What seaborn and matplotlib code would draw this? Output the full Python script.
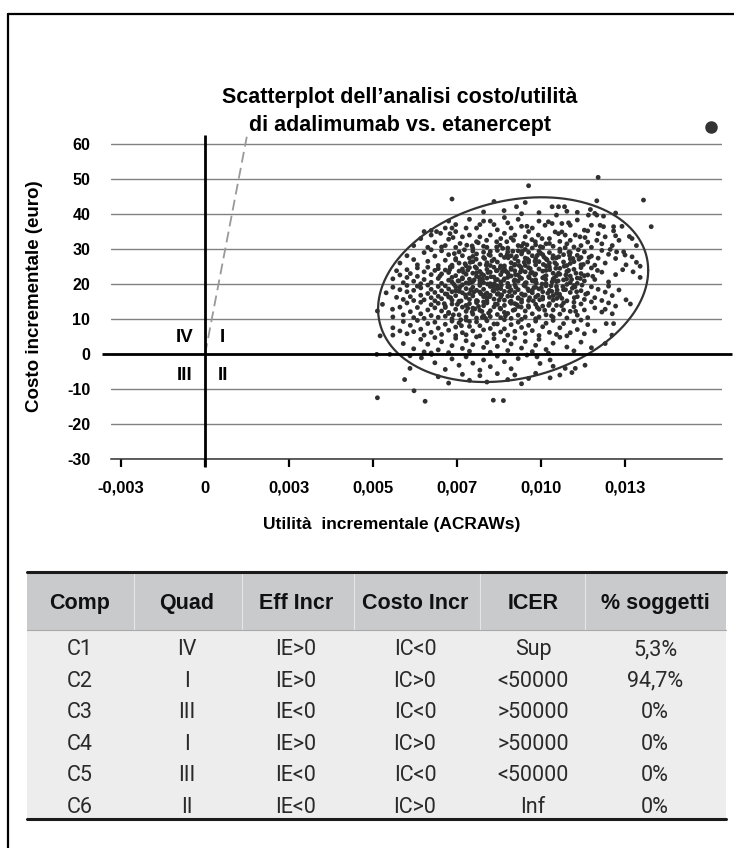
import numpy as np
import pandas as pd
import seaborn as sns
import matplotlib
matplotlib.use("Agg")
import matplotlib.pyplot as plt
from matplotlib.lines import Line2D
from matplotlib.patches import Rectangle

# Simulazioni bootstrap: (utilità incrementale in unità di 1e-4 ACRAWs, costo incrementale in euro)
punti = [
    # costo >= 40
    (96.3,48.1),(117,50.5),(73.5,44.3),(116.6,43.8),(130.5,44),(86,43.6),(92.7,42.1),(95.3,43.3),
    (103.3,42.1),(105.2,42.1),(107,42.1),(114.7,41.3),(116,40.2),(89,41),(82.9,40.6),(99.4,40.4),
    (110.8,40.5),(122.2,40.3),(94.2,40.1),(107.7,40.8),
    # 35 - 40
    (65.2,35),(67.3,35.3),(68.9,35),(70.1,34.5),(71.5,36),(73.5,36),(74.6,35),(74.6,37),(77.7,36),
    (80.8,36),(81.8,37),(82.9,38),(84.9,38),(86,37),(89.1,39),(90.1,37.5),(91.1,36),(93.2,38.5),
    (94.2,36.5),(95.8,36.5),(97.4,36),(96.3,35),(101.2,36.8),(102.2,37.8),(103.3,37.3),(104.6,39.7),
    (106.2,37.3),(108.2,37.5),(108.7,36.8),(110.8,38.3),(112.9,35.4),(113.9,35.2),(114.1,39.7),
    (115,36.8),(116.6,39.7),(117.6,36.8),(118.6,36.4),(118.6,39.4),(121.6,36.4),(121.6,35.2),
    (124.1,36.5),(132.8,36.4),(87,35.5),(99.4,38),(78.7,38.5),(72.5,38),(126.3,33.6),
    # 30 - 35
    (72.9,34.4),(73.8,33.3),(75.9,31.6),(77.9,31.1),(80.8,32.1),(83.8,32.5),(86.8,32.1),(87.8,31.1),
    (89.8,32.1),(91.8,32.5),(94.8,31.6),(62.1,31),(64.2,33),(66.3,30.5),(68.4,32),(71.5,31),(74.6,30.5),
    (76.6,33.5),(78.7,34),(79.7,30.2),(81.8,33.5),(83.9,30.5),(84.9,34),(88,33),(90.1,30.3),(92.2,34),
    (93.2,31),(95.3,33.5),(97.3,32.7),(98.3,32.1),(99.2,34),(100.3,33),(101.5,31.5),(102.5,33),
    (104.2,34.9),(105.2,34.4),(106.2,34.9),(107.2,34),(107.7,31.5),(108.7,32.5),(110.2,34),(111.6,33.5),
    (113.1,33.3),(111.9,31),(113.9,32),(115,30.5),(116.6,32.5),(118.1,31.5),(119.1,33.5),(121.2,31),
    (123.2,32.5),(127.1,33),(128.4,31),(100.5,30.5),(97.4,30.3),(89.1,34.5),(82.9,30.8),(72.5,32.8),
    (67.3,34),(91.1,33.2),(94.2,30.8),(98.4,31.2),(103.6,30.8),(105.6,32.2),(109.8,30.6),(117,34.4),
    (122.2,33.8),
    # 25 - 30
    (58,26),(60.1,28.1),(62.1,27),(63.2,25.5),(65.2,29),(66.3,26.5),(68.4,28),(69.4,25.3),(70.4,29.5),
    (71.5,26.8),(72.5,28.4),(73.5,25.4),(74.6,27.3),(75.6,29.2),(75.6,26),(76.6,28.1),(77.7,25.2),
    (78.7,27.4),(79.7,29.4),(79.7,26.4),(80.8,28.6),(81.8,25.7),(82.9,27.6),(82.9,29.1),(83.9,26.1),
    (84.9,28.2),(84.9,25.3),(86,27.1),(87,29.6),(87,26.3),(88,28.3),(89.1,25.2),(89.1,27.6),(90.1,29.2),
    (91.1,26.1),(91.1,28.1),(92.2,25.6),(92.2,27.3),(93.2,29.5),(93.2,26.5),(94.2,28.6),(95.3,25.3),
    (95.3,27.4),(96.3,29.1),(96.3,26.2),(97.4,28.1),(98.4,25.5),(98.4,27.3),(99.4,29.4),(99.4,26.4),
    (100.5,28.4),(101.5,25.2),(101.5,27.2),(102.5,29),(102.5,26),(103.6,28.1),(104.6,25.6),(104.6,27.5),
    (105.6,29.3),(106.7,26.3),(106.7,28.4),(107.7,25.3),(108.7,27.2),(108.7,29),(109.8,26.4),(110.8,28.2),
    (111.9,25.5),(111.9,27.6),(112.9,29.2),(113.9,26.3),(115,28),(116,25.4),(117,27.4),(118.1,29.6),
    (119.1,26),(120.1,28.5),(120.6,29.9),(122.2,27.3),(122.5,29.2),(124.6,29.2),(125,28.3),(127.1,27.8),
    (125.3,25.5),(128.4,26.2),(129.5,25.1),(67.3,29.8),
    # 20 - 25
    (55.9,21.5),(57,23.8),(58,22.6),(59,20.4),(60.1,24.1),(60.1,21.9),(61.1,23),(62.1,20.8),(63.2,24.6),
    (63.2,22.2),(64.2,20.1),(65.2,23.5),(65.2,21.3),(66.3,24.8),(67.3,22.7),(67.3,20.5),(68.4,23.9),
    (69.4,21.6),(69.4,24.4),(70.4,20.2),(70.4,22.9),(71.5,24),(72.5,21.1),(72.5,23.3),(73.5,20.6),
    (73.5,24.9),(74.6,22.4),(75.6,20.9),(75.6,23.7),(76.6,21.8),(76.6,24.3),(77.7,20.3),(77.7,22.8),
    (78.7,24.7),(78.7,21.4),(79.7,23.1),(79.7,20.7),(80.8,22.2),(80.8,24.5),(81.8,21),(81.8,23.6),
    (82.9,20.4),(82.9,22.5),(83.9,24.2),(83.9,21.7),(84.9,23.4),(84.9,20.1),(86,22),(86,24.8),(87,21.3),
    (87,23.9),(88,20.6),(88,22.7),(89.1,24.4),(89.1,21.5),(90.1,23.2),(90.1,20.2),(91.1,22.3),(91.1,24.6),
    (92.2,21.2),(92.2,23.8),(93.2,20.8),(93.2,22.6),(94.2,24.1),(94.2,21.6),(95.3,23.5),(95.3,20.3),
    (96.3,22.1),(96.3,24.7),(97.4,21),(97.4,23.3),(98.4,20.5),(98.4,22.9),(99.4,24.3),(100.5,21.8),
    (100.5,23.7),(101.5,20.1),(101.5,22.4),(102.5,24.9),(103.6,21.4),(103.6,23.1),(104.6,20.7),
    (105.6,22.8),(105.6,24.5),(106.7,21.2),(107.7,23.6),(108.7,20.4),(108.7,22.3),(109.8,24.2),
    (110.8,21.7),(111.9,23),(112.9,20.9),(113.9,22.6),(115,24.6),(116,21.3),(118.1,23.4),(120.1,20.6),
    (122.2,22.7),(124.3,24.1),(127.4,23.5),(129.5,21.9),
    # 15 - 20
    (53.9,17.5),(55.9,19.1),(57,16.2),(58,18.4),(59,15.6),(60.1,17.8),(60.1,19.6),(61.1,16.4),(62.1,18.2),
    (62.1,15.3),(63.2,19.4),(64.2,16.8),(64.2,18.9),(65.2,15.5),(66.3,17.3),(66.3,19.7),(67.3,16.1),
    (67.3,18.5),(68.4,15.2),(68.4,17.6),(69.4,19.3),(69.4,16.5),(70.4,18.1),(70.4,15.8),(71.5,17.2),
    (71.5,19.5),(72.5,16.3),(72.5,18.6),(73.5,15.4),(73.5,17.8),(74.6,19.2),(74.6,16.7),(75.6,18.3),
    (75.6,15.1),(76.6,17.5),(76.6,19.8),(77.7,16.2),(77.7,18.7),(78.7,15.6),(78.7,17.3),(79.7,19.1),
    (79.7,16.6),(80.8,18.2),(80.8,15.3),(81.8,17.7),(81.8,19.6),(82.9,16.4),(82.9,18.5),(83.9,15.2),
    (83.9,17.4),(84.9,19.3),(84.9,16.8),(86,18),(86,15.7),(87,17.1),(87,19.5),(88,16.3),(88,18.7),
    (89.1,15.4),(89.1,17.9),(90.1,19.2),(90.1,16.5),(91.1,18.3),(91.1,15.1),(92.2,17.6),(92.2,19.8),
    (93.2,16.1),(93.2,18.4),(94.2,15.5),(94.2,17.2),(95.3,19.4),(95.3,16.9),(96.3,18.1),(96.3,15.3),
    (97.4,17.5),(98.4,19.1),(98.4,16.3),(99.4,18.6),(100.5,15.7),(100.5,17.8),(101.5,19.5),(102.5,16.2),
    (102.5,18.2),(103.6,15.4),(104.6,17.3),(104.6,19.3),(105.6,16.6),(106.7,18.4),(107.7,15.2),
    (108.7,17.6),(109.8,19.6),(110.8,16.4),(111.9,18.1),(112.9,15.6),(113.9,17.4),(115,19.2),(116,16.1),
    (117,18.5),(118.1,15.3),(119.1,17.7),(120.1,19.4),(121.2,16.7),(123.2,18.3),(125.3,15.5),
    # 10 - 15
    (51.3,12.3),(55.8,12.8),(52.8,14.2),(55.9,10.6),(58,13.4),(59,11.2),(60.1,14.6),(61.1,12.1),
    (62.1,10.4),(63.2,13.3),(64.2,11.5),(64.2,14.8),(65.2,10.2),(66.3,12.6),(67.3,14.1),(67.3,11),
    (68.4,13.2),(69.4,10.5),(69.4,14.5),(70.4,12.3),(71.5,10.8),(71.5,13.7),(72.5,11.6),(73.5,14.3),
    (73.5,10.1),(74.6,12.8),(75.6,11.2),(75.6,14.9),(76.6,13.4),(77.7,10.6),(77.7,12.2),(78.7,14.4),
    (79.7,11.4),(79.7,13.1),(80.8,10.3),(80.8,14.7),(81.8,12.5),(82.9,11),(82.9,13.8),(83.9,14.6),
    (84.9,10.7),(84.9,12.4),(86,13.5),(87,11.3),(87,14.2),(88,10.4),(88,12.9),(89.1,13.9),(90.1,11.6),
    (91.1,14.5),(91.1,10.2),(92.2,12.7),(93.2,13.6),(93.2,11.1),(94.2,14.8),(95.3,10.6),(95.3,12.3),
    (96.3,13.4),(97.4,11.5),(98.4,14.2),(98.4,10.1),(99.4,12.8),(100.5,13.7),(101.5,11.2),(102.5,14.4),
    (103.6,10.5),(103.6,12.6),(104.6,13.9),(105.6,11.4),(106.7,14.6),(107.7,10.3),(108.7,12.2),
    (109.8,13.5),(110.8,11.1),(111.9,14.3),(112.9,12.6),(113.9,10.4),(116,13.2),(118.1,12),(120.1,14.6),
    (121.2,11.5),(122.2,13.7),(126.6,14.3),(119.1,12.8),(115,14.9),
    # 5 - 10
    (52.1,5.2),(55.9,7.5),(58,6.6),(59,9.3),(60.1,5.8),(61.1,8.2),(62.1,6.4),(63.2,9.6),(64.2,7.1),
    (65.2,5.4),(66.3,8.7),(67.3,6.2),(68.4,9.1),(69.4,7.4),(70.4,5.6),(71.5,8.5),(72.5,6.8),(73.5,9.4),
    (74.6,5.3),(74.6,7.7),(75.6,8.9),(76.6,6.1),(77.7,9.7),(77.7,5.5),(78.7,7.9),(79.7,6.6),(80.8,9.2),
    (81.8,5.2),(81.8,8.1),(82.9,6.9),(83.9,9.5),(84.9,7.3),(86,5.7),(87,8.6),(88,6.3),(89.1,9.8),
    (89.1,7.2),(90.1,5.4),(91.1,8.4),(92.2,6.5),(93.2,9.1),(94.2,7.6),(95.3,5.9),(96.3,8.2),(97.4,6.7),
    (98.4,9.4),(99.4,5.3),(100.5,7.8),(101.5,8.8),(102.5,6.2),(103.6,9.6),(104.6,5.6),(105.6,7.5),
    (106.7,8.7),(108.7,6.1),(109.8,9.3),(110.8,7),(112.9,5.8),(113.9,8.4),(116,6.6),(119.4,8.7),
    (121.6,8.7),(121.1,5.4),(107.7,5.2),(111.9,9.7),
    # 0 - 5
    (59,3),(62.1,1.5),(64.2,4.2),(65.2,0.6),(66.3,2.8),(68.4,4.7),(69.4,1.2),(70.4,3.5),(72.5,0.4),
    (73.5,2.4),(74.6,4.5),(76.6,1.6),(77.7,3.8),(78.7,0.8),(79.7,2.7),(80.8,4.9),(82.9,1.9),(83.9,3.3),
    (84.9,0.5),(86,4.4),(87,2.2),(89.1,3.9),(90.1,1),(91.1,2.9),(92.2,4.6),(94.2,1.7),(95.3,3.6),
    (97.4,0.7),(98.4,2.5),(99.4,4.2),(101.5,1.3),(103.6,3.1),(105.6,4.8),(107.7,2),(109.8,0.9),
    (111.9,3.4),(115,1.8),(119.1,3),(67.3,0.3),(55.9,5.4),
    # -5 - 0
    (51.1,-0.1),(55,-0.1),(61,-0.5),(64.4,-1.1),(67.4,-0.1),(61,-4.1),(68.4,-2.5),(71.5,-4.4),
    (73.5,-1.4),(75.6,-3.2),(77.7,-0.8),(79.7,-2.6),(81.8,-4.6),(82.9,-1.7),(84.9,-3.6),(87,-0.6),
    (89.1,-2.2),(91.1,-4.2),(93.2,-1.3),(95.8,-0.3),(98.8,-0.8),(99.7,-2.7),(102.7,-1.7),(102.2,0.2),
    (107.2,-4.1),(110.2,-4.1),(113.1,-3.2),(103.6,-3.5),
    # sotto -5
    (59.4,-7.3),(62.2,-10.5),(51.3,-12.5),(65.5,-13.5),(85.8,-13.2),(88.8,-13.3),(109.2,-5.3),
    (102.7,-6.8),(96.3,-7),(69.4,-6.5),(72.5,-8.3),(76.6,-5.8),(78.7,-7.5),(81.8,-6.2),(83.9,-8),
    (87,-5.6),(90.1,-7.3),(92.2,-6),(94.2,-8.5),(98.4,-5.5),(105.6,-6),
    # nucleo centrale
    (70.4,30.6),(73,24.9),(74.1,19.9),(75.1,14.2),(76.1,9.8),(77.2,29.8),(78.2,24),(79.2,20.5),
    (80.3,12.9),(81.3,31.8),(82.3,22.9),(83.4,17),(84.4,11.7),(85.4,26.6),(86.5,21.2),(87.5,15.4),
    (88.6,30.2),(89.6,23.6),(90.6,19.3),(91.7,12.5),(92.7,27.9),(93.7,21.9),(94.8,16.8),(95.8,31.2),
    (96.8,24.4),(97.9,19),(98.9,13.3),(99.9,28.8),(101,22.1),(102,17.4),(103.1,10.9),(104.1,26.1),
    (105.1,20.9),(106.2,15.9),(107.2,30.4),(108.2,23.9),(109.3,18.8),(110.3,12.2),(111.3,27.1),
    (72,17.1),(72.5,11.9),(74.6,26.9),(76.6,21.5),(78.7,9.3),(80.8,23.2),(82.9,14.9),(84.9,29.3),
    (87,18.7),(89.1,11.9),(91.1,24.2),(93.2,15.9),(95.3,29.9),(97.4,18.2),(99.4,10.6),(101.5,23.9),
    (103.6,16.7),(105.6,30),(107.7,19.9),(109.8,14.8),(111.9,24.7),(73.5,21.9),(75.6,17.9),(77.7,13.9),
    (79.7,27.9),(81.8,20.2),(83.9,16),(86,8.6),(88,25.2),(90.1,21.9),(92.2,14.4),(94.2,9.9),(96.3,26.8),
    (98.4,21.2),(100.5,16.3),(102.5,31.6),(104.6,22.4),(106.7,12.6),(108.7,25.9),(110.8,20.2),
    (69.9,22.3),(71.5,13.3),(77.5,16.9),(79.5,12),(81.6,21.9),(83.7,25.4),(85.8,19.2),(87.8,13.1),
    (89.9,28.4),(92,20.9),(94,24.8),(96.1,18.6),(98.2,26.5),(100.3,20),(102.3,13.9),(104.4,24.5),
    (106.5,19.3),(108.5,28.2),(110.6,17.8),(80,17.7),(84.1,20),(88.2,19.7),(92.4,22.7),(96.5,21.8),
    (100.7,25.6),(104.8,18.3),(82.5,10.5),(86.7,23.8),(90.8,14.9),(95,26.2),(99.1,16.8),(103.3,20.6),
    (107.4,22.6),
    (74.2,28.7),(76.9,23.4),(79.1,18.4),(81.4,13.6),(83.2,27.3),(85.1,22.1),(87.3,17.3),(89.4,10.9),
    (91.6,29.4),(93.5,25.3),(95.6,20.4),(97.7,15.2),(99.8,30.7),(101.8,26.9),(103.9,21.7),(106.1,13.8),
    (108.3,29.1),(110.4,23.1),(112.2,19.7),(114.3,27.6),(73.1,16.1),(75.3,20.9),(77.4,25.8),(79.5,30.9),
    (81.1,15.1),(83.5,10.2),(85.7,18.1),(87.9,24.7),(90.2,27.5),(92.8,14.1),(94.9,19.7),(96.9,23.1),
    (98.9,28.2),(101.1,12.5),(103.2,17.9),(105.3,27.8),(107.6,21.4),(109.9,16.1),(112.6,25.6),
    (115.4,22.2),(72.8,24.1),(75.9,19.2),(78.2,13.1),(80.7,27.1),(82.6,21.4),(84.7,16.4),(86.8,30.6),
    (88.9,21.1),(91.3,16.6),(93.9,23.5),(96.2,13.8),(98.1,22.6),(100.1,18.9),(102.6,24.1),(104.7,15.9),
    (106.9,25.1),(109.1,21.3),(111.1,29.8),(113.3,17.1),(116.8,23.9),(71.2,14.4),(73.9,11.2),(76.3,8.1),
    (78.9,26.2),(80.1,21.2),(82.1,17.2),(84.2,23.3),(86.1,20.1),(88.3,16.9),(90.4,22.5),(92.5,19.1),
    (94.4,29.3),(96.6,16.1),(98.6,20.3),(100.9,27.7),(103,19.5),(105.2,23.1),(107.3,18.4),(109.5,27.3),
    (111.7,21.6),(74.6,18.1),(76.2,15.2),(78.5,20.2),(80.4,24.9),(82.4,12.2),(84.5,28.4),(86.4,14.3),
    (88.5,23.6),(90.6,17.8),(92.1,25.4),(94.1,13.4),(95.9,27.2),(97.5,20.9),(99.6,15.5),(101.4,21.3),
    (103.5,27.4),(105.5,17.1),(107.9,23.7),(110.1,19.2),(112.9,22.4),
]
utilita_1e4 = [p[0] for p in punti]
costo = [p[1] for p in punti]

# Ellisse di confidenza della nuvola
centro_utilita_1e4 = 91.7
centro_costo = 18.4
semiasse_utilita_1e4 = 40.2
semiasse_costo = 26.4
correlazione = 0.21

# Disponibilità a pagare (euro per ACRAW)
soglia_wtp = 50000

x_tick_pos = [-0.0025, 0.0, 0.0025, 0.005, 0.0075, 0.010, 0.0125]
x_tick_lab = ['-0,003', '0', '0,003', '0,005', '0,007', '0,010', '0,013']
y_tick_pos = [-30, -20, -10, 0, 10, 20, 30, 40, 50, 60]

quadranti = ['IV', 'I', 'III', 'II']
quadranti_x = [-0.000595, 0.000506, -0.000595, 0.000536]
quadranti_y = [4.6, 4.6, -6.2, -6.2]

# Tabella riassuntiva
intestazioni = ['Comp', 'Quad', 'Eff Incr', 'Costo Incr', 'ICER', '% soggetti']
comp = ['C1', 'C2', 'C3', 'C4', 'C5', 'C6']
quad = ['IV', 'I', 'III', 'I', 'III', 'II']
eff_incr = ['IE>0', 'IE>0', 'IE<0', 'IE>0', 'IE<0', 'IE<0']
costo_incr = ['IC<0', 'IC>0', 'IC<0', 'IC>0', 'IC<0', 'IC>0']
icer = ['Sup', '<50000', '>50000', '>50000', '<50000', 'Inf']
soggetti = ['5,3%', '94,7%', '0%', '0%', '0%', '0%']

sns.set_theme(style="white")
plt.rcParams['font.family'] = ['Liberation Sans', 'DejaVu Sans']
plt.rcParams['axes.unicode_minus'] = False

W, H = 734, 848
fig = plt.figure(figsize=(W / 100, H / 100), dpi=100, facecolor='white')


def fx(px):
    return px / W


def fy(py):
    return 1 - py / H


ax = fig.add_axes([fx(111), fy(459), fx(722) - fx(111), fy(135) - fy(459)])
ax.set_facecolor('white')

df = pd.DataFrame({'utilita': np.array(utilita_1e4) * 1e-4, 'costo': costo})
sns.scatterplot(data=df, x='utilita', y='costo', ax=ax, s=12, color='#303030',
                edgecolor='none', linewidth=0, legend=False, zorder=3)

ax.set_xlim(-0.0028, 0.015387)
ax.set_ylim(-30, 62.6)

# griglia orizzontale
ax.set_axisbelow(True)
ax.yaxis.grid(True, color='#808080', linewidth=1.0)
ax.xaxis.grid(False)
for side in ['left', 'right', 'top']:
    ax.spines[side].set_visible(False)
ax.spines['bottom'].set_color('#333333')
ax.spines['bottom'].set_linewidth(1.1)

ax.set_xticks(x_tick_pos, x_tick_lab)
ax.set_yticks(y_tick_pos, [str(v) for v in y_tick_pos])
ax.tick_params(axis='x', direction='out', length=5.5, width=1.6, color='black',
               pad=10, labelsize=12, bottom=True)
ax.tick_params(axis='y', length=0, pad=15, labelsize=11.5, left=False)
for lab in ax.get_xticklabels() + ax.get_yticklabels():
    lab.set_fontweight('bold')
    lab.set_color('black')

# assi passanti per l'origine
ax.plot([-0.015, 1.016], [0, 0], transform=ax.get_yaxis_transform(), color='black',
        lw=2.0, clip_on=False, zorder=5, solid_capstyle='butt')
ax.plot([0, 0], [-0.025, 1.0], transform=ax.get_xaxis_transform(), color='black',
        lw=2.0, clip_on=False, zorder=5, solid_capstyle='butt')

# retta della soglia di disponibilità a pagare
y_max = ax.get_ylim()[1]
ax.plot([0, (y_max - 0.5) / soglia_wtp], [0, y_max - 0.5], color='#999999', lw=1.3,
        linestyle=(0, (6, 3)), zorder=4)

# ellisse di confidenza
t = np.linspace(0, 2 * np.pi, 400)
fase = np.arccos(correlazione)
ex = (centro_utilita_1e4 + semiasse_utilita_1e4 * np.cos(t)) * 1e-4
ey = centro_costo + semiasse_costo * np.cos(t - fase)
ax.plot(ex, ey, color='#333333', lw=1.6, zorder=4)

for lab, qx, qy in zip(quadranti, quadranti_x, quadranti_y):
    ax.text(qx, qy, lab, ha='center', va='center', fontsize=13.5, fontweight='bold',
            color='black', zorder=6)

ax.set_xlabel('Utilità  incrementale (ACRAWs)', fontsize=12.5, fontweight='bold', color='black')
ax.set_ylabel('Costo incrementale (euro)', fontsize=13.5, fontweight='bold', color='black')
ax.xaxis.set_label_coords((392 - 111) / 611, (459 - 525) / 324)
ax.xaxis.label.set_va('center')
ax.yaxis.set_label_coords((34 - 111) / 611, (459 - 296) / 324)
ax.yaxis.label.set_va('center')

# marcatore di legenda
marker = Line2D([], [], marker='o', color='#333333', linestyle='none', markersize=8)
fig.legend([marker], [''], loc='center', bbox_to_anchor=(fx(711), fy(128)), frameon=False,
           handletextpad=0, borderpad=0, handlelength=1, borderaxespad=0)

fig.text(fx(400), fy(97), 'Scatterplot dell’analisi costo/utilità', ha='center', va='center',
         fontsize=15.5, fontweight='bold', color='black')
fig.text(fx(400), fy(125), 'di adalimumab vs. etanercept', ha='center', va='center',
         fontsize=15.5, fontweight='bold', color='black')

# tabella
tab_l, tab_r = 27, 726
r_top, r_head, r_bot = 572, 630, 819
col_x = [80, 187, 296, 415, 533, 655]
sep_x = [134, 242, 354, 480, 585]
fig.add_artist(Rectangle((fx(tab_l), fy(r_head)), fx(tab_r) - fx(tab_l), fy(r_top) - fy(r_head),
                         transform=fig.transFigure, facecolor='#c9cacc', edgecolor='none'))
fig.add_artist(Rectangle((fx(tab_l), fy(r_bot)), fx(tab_r) - fx(tab_l), fy(r_head) - fy(r_bot),
                         transform=fig.transFigure, facecolor='#ededed', edgecolor='none'))
for sx in sep_x:
    fig.add_artist(Line2D([fx(sx), fx(sx)], [fy(r_top), fy(r_head)], transform=fig.transFigure,
                          color='#e6e6e6', lw=0.8))
fig.add_artist(Line2D([fx(tab_l), fx(tab_r)], [fy(r_head), fy(r_head)], transform=fig.transFigure,
                      color='#a8a8a8', lw=0.8))
for ry in (r_top, r_bot):
    fig.add_artist(Line2D([fx(tab_l), fx(tab_r)], [fy(ry), fy(ry)], transform=fig.transFigure,
                          color='#1a1a1a', lw=2.2))

# intestazioni allineate su una linea di base comune
for cx, h in zip(col_x, intestazioni):
    fig.text(fx(cx), fy(609), h, ha='center', va='baseline', fontsize=15.5, fontweight='bold',
             color='#111111')

righe = list(zip(comp, quad, eff_incr, costo_incr, icer, soggetti))
passo = (r_bot - r_head) / len(righe)
for i, riga in enumerate(righe):
    base = r_head + passo * (i + 0.5) + 9.5
    for cx, val in zip(col_x, riga):
        fig.text(fx(cx), fy(base), val, ha='center', va='baseline', fontsize=15.5,
                 fontweight='normal', family=['Roboto', 'DejaVu Sans'], color='#2a2a2a')

# cornice
fig.add_artist(Line2D([fx(8), fx(8)], [fy(14), 0], transform=fig.transFigure, color='black', lw=1.6))
fig.add_artist(Line2D([fx(8), 1], [fy(14), fy(14)], transform=fig.transFigure, color='black', lw=1.6))

fig.savefig('out.png', dpi=100, facecolor='white')
